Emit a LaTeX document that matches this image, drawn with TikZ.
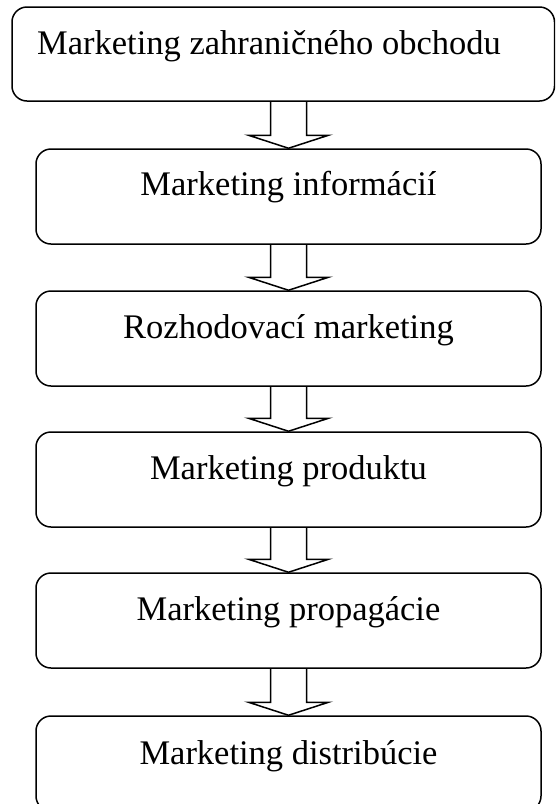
\documentclass[tikz,border=0pt]{standalone}
\usepackage{fontspec}
\setmainfont{Liberation Serif}
\usetikzlibrary{calc}
\tikzset{
  boxnode/.style={draw, line width=1.5pt, rounded corners=15pt, inner sep=0pt, minimum height=95pt},
  lbl/.style={font=\fontsize{34.5}{40}\selectfont, inner sep=0pt},
  barrow/.style={draw, line width=1.5pt, line join=miter}
}
\newcommand\blockarr[2]{%
  \draw[barrow] let \p1=(#1.south), \p2=(#2.north) in
    (\x2-18pt,\y1) -- (\x2-18pt,\y2+13pt) -- (\x2-40pt,\y2+13pt) -- (\x2,\y2)
    -- (\x2+40pt,\y2+13pt) -- (\x2+18pt,\y2+13pt) -- (\x2+18pt,\y1);}
\begin{document}
\begin{tikzpicture}[x=1pt,y=-1pt]
\useasboundingbox (0,0) rectangle (555,804);
\clip (0,0) rectangle (555,804);
\node[boxnode, minimum width=542.5pt, minimum height=94pt] (b1) at (283.25,54) {};
\node[boxnode, minimum width=505pt] (b2) at (288.5,196.5) {};
\node[boxnode, minimum width=505pt] (b3) at (288.5,338.5) {};
\node[boxnode, minimum width=505pt] (b4) at (288.5,479.5) {};
\node[boxnode, minimum width=505pt] (b5) at (288.5,620.5) {};
\node[boxnode, minimum width=505pt] (b6) at (288.5,763.5) {};
\node[lbl, anchor=base west] (t1) at (37,54) {Marketing zahraničného obchodu};
\node[lbl, anchor=base] (t2) at ($(b2.north)+(0,47.5)$) {Marketing informácií};
\node[lbl, anchor=base] (t3) at ($(b3.north)+(0,48)$) {Rozhodovací marketing};
\node[lbl, anchor=base] (t4) at ($(b4.north)+(0,48)$) {Marketing produktu};
\node[lbl, anchor=base] (t5) at ($(b5.north)+(0,48)$) {Marketing propagácie};
\node[lbl, anchor=base] (t6) at ($(b6.north)+(0,49.5)$) {Marketing distribúcie};
\blockarr{b1}{b2}
\blockarr{b2}{b3}
\blockarr{b3}{b4}
\blockarr{b4}{b5}
\blockarr{b5}{b6}
\end{tikzpicture}
\end{document}
